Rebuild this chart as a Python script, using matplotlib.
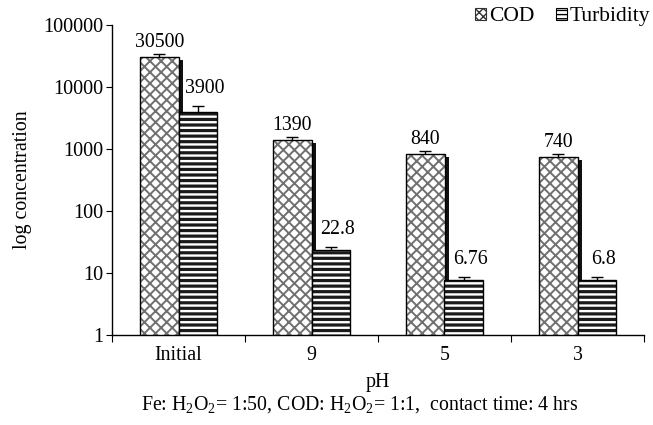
import matplotlib
matplotlib.use("Agg")
import matplotlib.pyplot as plt
import matplotlib.transforms as mtransforms
from matplotlib.patches import Patch
import numpy as np

categories = ["Initial", "9", "5", "3"]
cod = [30500, 1390, 840, 740]
turbidity = [3900, 22.8, 6.76, 6.8]
cod_err = [3500, 150, 90, 80]
turb_err = [1000, 3.2, 1.8, 1.8]
cod_labels = ["30500", "1390", "840", "740"]
turb_labels = ["3900", "22.8", "6.76", "6.8"]
yticks = [1, 10, 100, 1000, 10000, 100000]

plt.rcParams['font.family'] = ['Liberation Serif', 'DejaVu Serif']
plt.rcParams['mathtext.fontset'] = 'custom'
plt.rcParams['mathtext.rm'] = 'Liberation Serif'
plt.rcParams['mathtext.it'] = 'Liberation Serif:italic'

fig = plt.figure(figsize=(6.53, 4.25), dpi=100)
ax = fig.add_axes([112/653, 90/425, 532/653, 310/425])

x = np.arange(len(categories))
w = 0.286
ax.set_yscale('log')

# shadow behind COD bars
shadow_tr = mtransforms.offset_copy(ax.transData, fig=fig, x=4, y=-3, units='dots')
ax.bar(x - w/2, cod, w, bottom=1, color='#111111', linewidth=0, zorder=2.5,
       transform=shadow_tr)

# COD bars: gray hatch, then black outline
with plt.rc_context({'hatch.linewidth': 1.4}):
    ax.bar(x - w/2, cod, w, bottom=1, color='white', edgecolor='#707070', linewidth=0,
           hatch='xxx', zorder=3)
ax.bar(x - w/2, cod, w, bottom=1, fill=False, edgecolor='black', linewidth=1.0, zorder=4)
ax.errorbar(x - w/2, cod, yerr=cod_err, fmt='none', ecolor='black', elinewidth=1, capsize=4, zorder=2)

# Turbidity bars
with plt.rc_context({'hatch.linewidth': 2.3}):
    ax.bar(x + w/2, turbidity, w, bottom=1, color='white', edgecolor='#1a1a1a', linewidth=0,
           hatch='---', zorder=5)
ax.bar(x + w/2, turbidity, w, bottom=1, fill=False, edgecolor='black', linewidth=1.0, zorder=6)
ax.errorbar(x + w/2, turbidity, yerr=turb_err, fmt='none', ecolor='black', elinewidth=1, capsize=4, zorder=4.5)

for xi, v, e, t in zip(x, cod, cod_err, cod_labels):
    ax.annotate(t, (xi - w/2, v + e), xytext=(0, 1.5), textcoords='offset points',
                ha='center', va='bottom', fontsize=14.3)
for xi, v, e, t in zip(x, turbidity, turb_err, turb_labels):
    ax.annotate(t, (xi + w/2, v + e), xytext=(5, 6), textcoords='offset points',
                ha='center', va='bottom', fontsize=14.3)

ax.set_ylim(1, 100000)
ax.set_xlim(-0.5, len(categories) - 0.5)
ax.set_yticks(yticks)
ax.set_yticklabels([str(t) for t in yticks])
ax.yaxis.set_minor_locator(matplotlib.ticker.NullLocator())
ax.tick_params(axis='y', which='major', length=4, labelsize=14.6, direction='out', pad=2)

ax.set_xticks(np.arange(len(categories) + 1) - 0.5)
ax.set_xticklabels([])
ax.set_xticks(x, minor=True)
ax.set_xticklabels(categories, minor=True)
ax.tick_params(axis='x', which='major', length=5, direction='out')
ax.tick_params(axis='x', which='minor', length=0, labelsize=14.3, pad=8)

for s in ['top', 'right']:
    ax.spines[s].set_visible(False)
for s in ['left', 'bottom']:
    ax.spines[s].set_linewidth(1.0)

ax.set_xlabel('pH', fontsize=14.3, labelpad=6)
ax.set_ylabel('log concentration', fontsize=14.3, labelpad=8)

fig.text(0.5 + 33/653, 20/425,
         'Fe: H$_2$O$_2$= 1:50, COD: H$_2$O$_2$= 1:1,  contact time: 4 hrs',
         ha='center', va='center', fontsize=14.3)

with plt.rc_context({'hatch.linewidth': 1.0}):
    handles = [Patch(facecolor='white', edgecolor='#333333', hatch='xxxx', linewidth=0.8),
               Patch(facecolor='white', edgecolor='black', hatch='----', linewidth=0.8)]
fig.legend(handles, ['COD', 'Turbidity'], loc='upper right', bbox_to_anchor=(1.026, 1.028),
           ncol=2, frameon=False, fontsize=15.5, handlelength=0.5, handleheight=0.5,
           handletextpad=0.15, columnspacing=1.0)

fig.savefig('out.png', dpi=100)
